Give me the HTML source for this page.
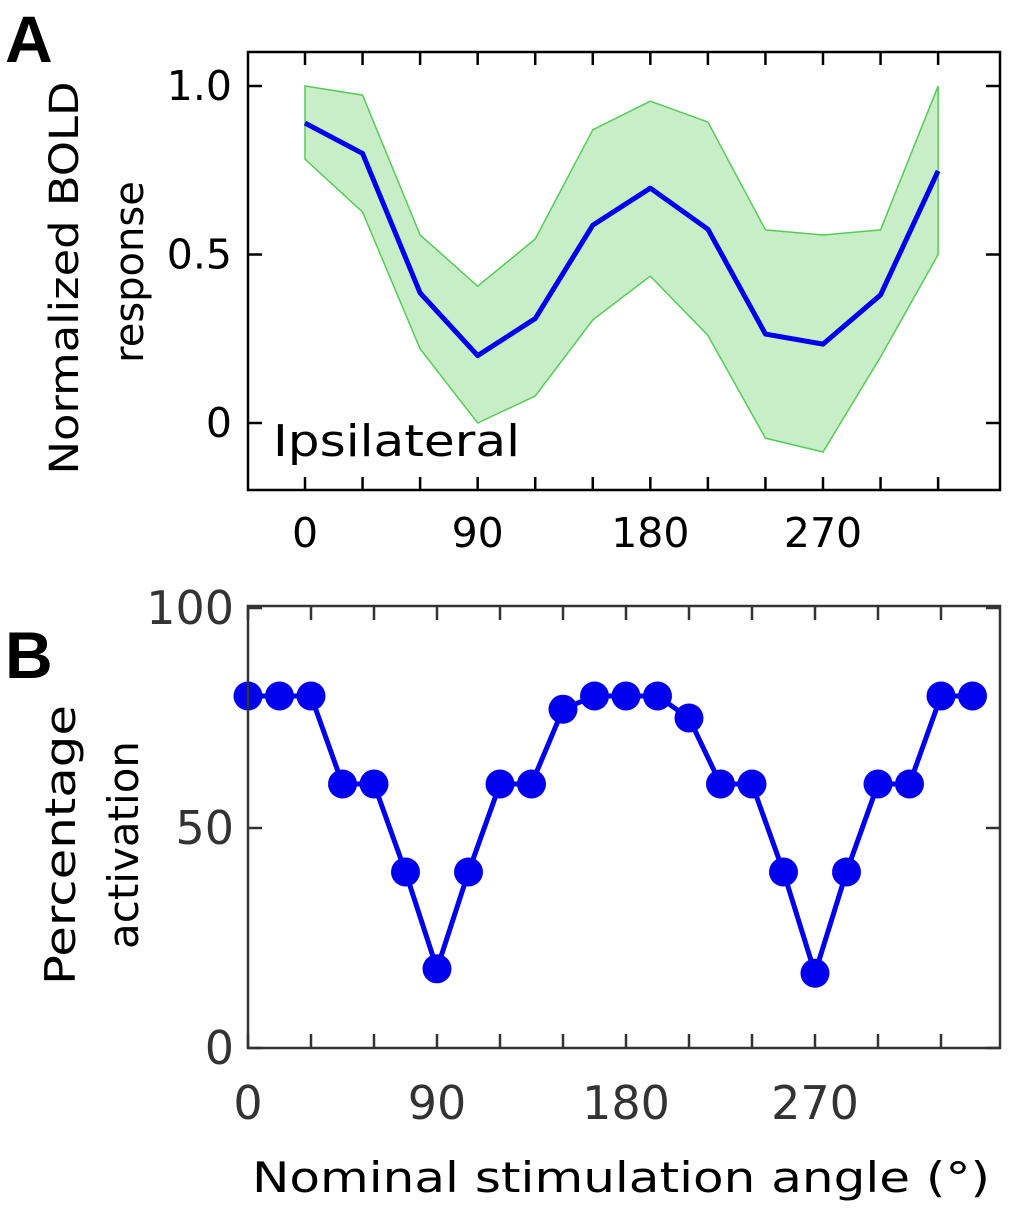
<!DOCTYPE html>
<html><head><meta charset="utf-8"><style>
body{margin:0;background:#fff}
svg text{font-family:"DejaVu Sans","Liberation Sans",sans-serif}
</style></head><body>
<svg id="c" width="1016" height="1205" viewBox="0 0 1016 1205" xmlns="http://www.w3.org/2000/svg">
<text x="5" y="62" font-size="66" font-weight="bold" style="font-family:'Liberation Sans',sans-serif">A</text>
<text x="5" y="678" font-size="66" font-weight="bold" style="font-family:'Liberation Sans',sans-serif">B</text>
<g id="ga"></g>
<g id="gb"></g>
</svg>
<script>
const anglesA=[0,30,60,90,120,150,180,210,240,270,300,330];
const meanA=[0.89,0.80,0.386,0.20,0.31,0.587,0.697,0.575,0.264,0.234,0.38,0.748];
const upperA=[1.0,0.973,0.558,0.406,0.546,0.87,0.955,0.893,0.573,0.558,0.573,1.0];
const lowerA=[0.783,0.626,0.22,0.0,0.08,0.306,0.436,0.26,-0.045,-0.086,0.196,0.5];
const yTicksA=[0,0.5,1.0];const yTickLabelsA=["0","0.5","1.0"];
const xTickLabelsA=[0,90,180,270];
const anglesB=[0,15,30,45,60,75,90,105,120,135,150,165,180,195,210,225,240,255,270,285,300,315,330,345];
const pctB=[80,80,80,60,60,40,18,40,60,60,77,80,80,80,75,60,60,40,17,40,60,60,80,80];
const yTicksB=[0,50,100];
const xTickLabelsB=[0,90,180,270];
const NS="http://www.w3.org/2000/svg";
function mk(p,t,a,txt){const e=document.createElementNS(NS,t);for(const k in a)e.setAttribute(k,a[k]);if(txt!==undefined)e.textContent=txt;p.appendChild(e);return e;}
// Panel A
const ga=document.getElementById('ga');
const xa=v=>305+v*(823-305)/270, ya=v=>423-v*337;
let poly=anglesA.map((a,i)=>xa(a)+','+ya(upperA[i])).concat(anglesA.map((a,i)=>[a,i]).reverse().map(([a,i])=>xa(a)+','+ya(lowerA[i]))).join(' ');
let e=mk(ga,'polygon',{points:poly,fill:'#c8eec8',stroke:'#55cc55','stroke-width':1.5});


e=mk(ga,'polyline',{points:anglesA.map((a,i)=>xa(a)+','+ya(meanA[i])).join(' '),fill:'none',stroke:'#0000ee','stroke-width':5,'stroke-linejoin':'round'});


e=mk(ga,'rect',{x:248,y:52,width:752,height:438,fill:'none',stroke:'#000','stroke-width':2.5});


yTicksA.forEach((v,i)=>{mk(ga,'line',{x1:248,x2:262,y1:ya(v),y2:ya(v),stroke:'#000','stroke-width':2.5});mk(ga,'line',{x1:986,x2:1000,y1:ya(v),y2:ya(v),stroke:'#000','stroke-width':2.5});
 e=mk(ga,'text',{x:232,y:ya(v)+14,'font-size':41,'text-anchor':'end'},yTickLabelsA[i]);
 
 });
anglesA.forEach(a=>{mk(ga,'line',{x1:xa(a),x2:xa(a),y1:490,y2:477,stroke:'#000','stroke-width':2.5});mk(ga,'line',{x1:xa(a),x2:xa(a),y1:52,y2:65,stroke:'#000','stroke-width':2.5});});
xTickLabelsA.forEach(v=>{e=mk(ga,'text',{x:xa(v),y:547,'font-size':41,'text-anchor':'middle'},String(v));
 
 });
e=mk(ga,'text',{x:273,y:456,'font-size':44,textLength:247,lengthAdjust:'spacingAndGlyphs'},'Ipsilateral');


e=mk(ga,'text',{transform:'translate(78,278) rotate(-90)','font-size':40,'text-anchor':'middle',textLength:393,lengthAdjust:'spacingAndGlyphs'},'Normalized BOLD');


e=mk(ga,'text',{transform:'translate(143,272) rotate(-90)','font-size':40,'text-anchor':'middle'},'response');


// Panel B
const gb=document.getElementById('gb');
const xb=v=>248+v*(815-248)/270, yb=v=>1048-v*4.4;
e=mk(gb,'polyline',{points:anglesB.map((a,i)=>xb(a)+','+yb(pctB[i])).join(' '),fill:'none',stroke:'#0000ee','stroke-width':5,'stroke-linejoin':'round'});


anglesB.forEach((a,i)=>{e=mk(gb,'circle',{cx:xb(a),cy:yb(pctB[i]),r:14.5,fill:'#0000ee'});
 
 });
e=mk(gb,'path',{d:'M248,606 H1000 V1048 H248 Z',fill:'none',stroke:'#333','stroke-width':2.5});


yTicksB.forEach(v=>{mk(gb,'line',{x1:248,x2:262,y1:yb(v),y2:yb(v),stroke:'#333','stroke-width':2.5});mk(gb,'line',{x1:986,x2:1000,y1:yb(v),y2:yb(v),stroke:'#333','stroke-width':2.5});
 e=mk(gb,'text',{x:234,y:yb(v)+16,'font-size':46,'text-anchor':'end',fill:'#333'},String(v));
 
 });
for(let a=0;a<=345;a+=30){mk(gb,'line',{x1:xb(a),x2:xb(a),y1:1048,y2:1034,stroke:'#333','stroke-width':2.5});mk(gb,'line',{x1:xb(a),x2:xb(a),y1:606,y2:620,stroke:'#333','stroke-width':2.5});}
xTickLabelsB.forEach(v=>{e=mk(gb,'text',{x:xb(v),y:1119,'font-size':46,'text-anchor':'middle',fill:'#333'},String(v));
 
 });
e=mk(gb,'text',{x:252,y:1192,'font-size':42,textLength:738,lengthAdjust:'spacingAndGlyphs'},'Nominal stimulation angle (°)');


e=mk(gb,'text',{transform:'translate(75,845) rotate(-90)','font-size':42,'text-anchor':'middle',textLength:280,lengthAdjust:'spacingAndGlyphs'},'Percentage');


e=mk(gb,'text',{transform:'translate(138,845) rotate(-90)','font-size':42,'text-anchor':'middle'},'activation');


</script>
</body></html>
